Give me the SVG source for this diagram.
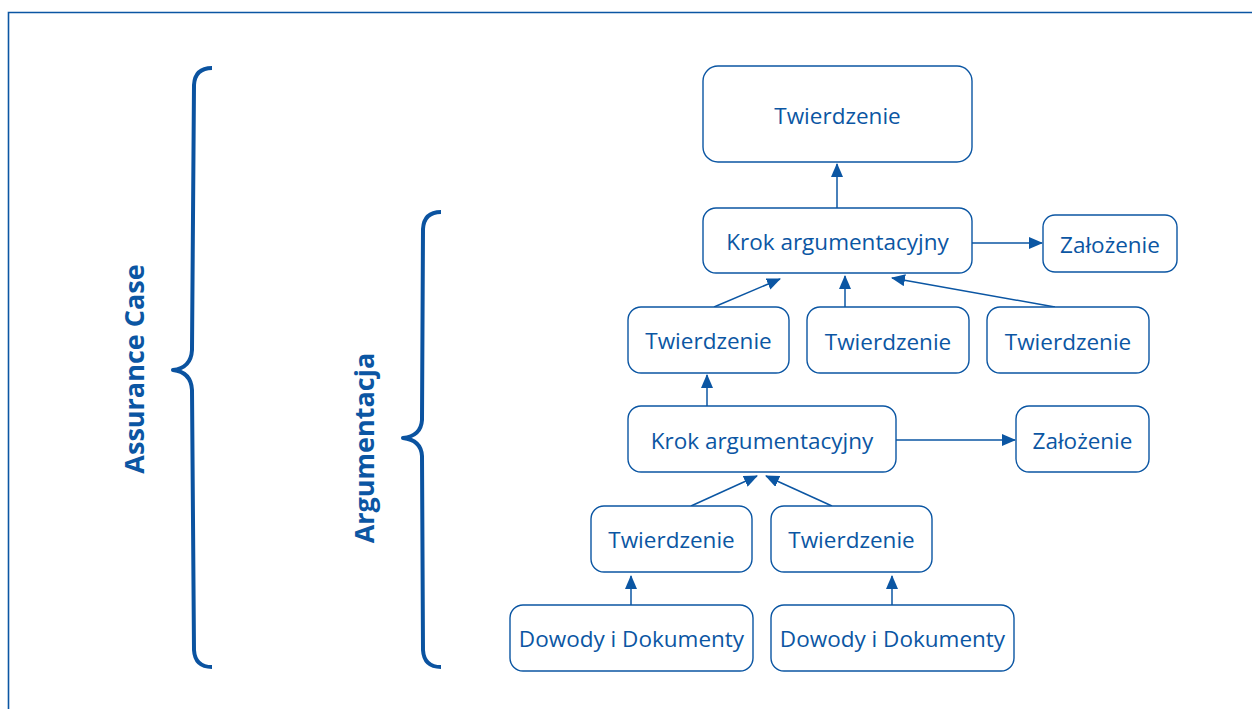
<svg xmlns="http://www.w3.org/2000/svg" width="1252" height="709" viewBox="0 0 1252 709">
<defs>
<style>
.frame{fill:none;stroke:#0b56a3;stroke-width:1.6}
.brace{fill:none;stroke:#0b53a0;stroke-width:4;stroke-linecap:butt;stroke-linejoin:round}
.node rect{fill:#fff;stroke:#0b56a3;stroke-width:1.4}
.node text{font-family:"Open Sans","Noto Sans",sans-serif;font-size:22.5px;fill:#0b56a3;text-anchor:middle;dominant-baseline:central}
.side{font-family:"Open Sans","Noto Sans",sans-serif;font-size:27px;font-weight:700;fill:#0b56a3;text-anchor:middle;dominant-baseline:central}
.conn{fill:none;stroke:#0b56a3;stroke-width:1.5}
</style>
<marker id="arr" viewBox="0 0 14 12" refX="13" refY="6" markerWidth="14" markerHeight="12" markerUnits="userSpaceOnUse" orient="auto">
<path d="M0,0 L14,6 L0,12 Z" fill="#0b56a3"/>
</marker>
</defs>
<rect width="1252" height="709" fill="#fff"/>
<path class="frame" d="M8.5,709 V12.5 H1252"/>

<g id="brace-assurance">
<path class="brace" d="M212,68 Q195,68 194,85 L192,350 Q191,368 173,370 Q191,372 192,390 L194,650 Q195,667 212,667"/>
<text class="side" transform="translate(133,369) rotate(-90)">Assurance Case</text>
</g>
<g id="brace-argumentacja">
<path class="brace" d="M441,212 Q424,212 423,229 L422,420 Q421,436 403,438 Q421,440 422,456 L423,650 Q424,667 441,667"/>
<text class="side" transform="translate(363,448) rotate(-90)">Argumentacja</text>
</g>

<g id="connectors">
<line class="conn" x1="837" y1="208" x2="837" y2="164" marker-end="url(#arr)"/>
<line class="conn" x1="972" y1="243" x2="1042" y2="243" marker-end="url(#arr)"/>
<line class="conn" x1="714" y1="307" x2="780" y2="279" marker-end="url(#arr)"/>
<line class="conn" x1="845" y1="307" x2="845" y2="276" marker-end="url(#arr)"/>
<line class="conn" x1="1055" y1="307" x2="892" y2="278" marker-end="url(#arr)"/>
<line class="conn" x1="707" y1="406" x2="707" y2="375" marker-end="url(#arr)"/>
<line class="conn" x1="896" y1="440" x2="1015" y2="440" marker-end="url(#arr)"/>
<line class="conn" x1="691" y1="506" x2="757" y2="476" marker-end="url(#arr)"/>
<line class="conn" x1="832" y1="506" x2="766" y2="476" marker-end="url(#arr)"/>
<line class="conn" x1="631" y1="605" x2="631" y2="576" marker-end="url(#arr)"/>
<line class="conn" x1="892" y1="605" x2="892" y2="576" marker-end="url(#arr)"/>
</g>

<g id="n-top" class="node"><rect x="703" y="66" width="269" height="96" rx="15"/><text x="837.5" y="115">Twierdzenie</text></g>
<g id="n-krok1" class="node"><rect x="703" y="208" width="269" height="65" rx="13"/><text x="837.5" y="241">Krok argumentacyjny</text></g>
<g id="n-zal1" class="node"><rect x="1043" y="215" width="134" height="57" rx="12"/><text x="1110" y="244">Założenie</text></g>
<g id="n-tw2a" class="node"><rect x="628" y="307" width="161" height="66" rx="13"/><text x="708.5" y="340">Twierdzenie</text></g>
<g id="n-tw2b" class="node"><rect x="807" y="307" width="162" height="66" rx="13"/><text x="888" y="341">Twierdzenie</text></g>
<g id="n-tw2c" class="node"><rect x="987" y="307" width="162" height="66" rx="13"/><text x="1068" y="341">Twierdzenie</text></g>
<g id="n-krok2" class="node"><rect x="628" y="406" width="268" height="66" rx="13"/><text x="762" y="440">Krok argumentacyjny</text></g>
<g id="n-zal2" class="node"><rect x="1016" y="406" width="133" height="66" rx="13"/><text x="1082.5" y="440">Założenie</text></g>
<g id="n-tw4a" class="node"><rect x="591" y="506" width="161" height="66" rx="13"/><text x="671.5" y="539">Twierdzenie</text></g>
<g id="n-tw4b" class="node"><rect x="771" y="506" width="161" height="66" rx="13"/><text x="851.5" y="539">Twierdzenie</text></g>
<g id="n-dow1" class="node"><rect x="510" y="605" width="243" height="66" rx="13"/><text x="631.5" y="638">Dowody i Dokumenty</text></g>
<g id="n-dow2" class="node"><rect x="771" y="605" width="243" height="66" rx="13"/><text x="892.5" y="638">Dowody i Dokumenty</text></g>
</svg>
